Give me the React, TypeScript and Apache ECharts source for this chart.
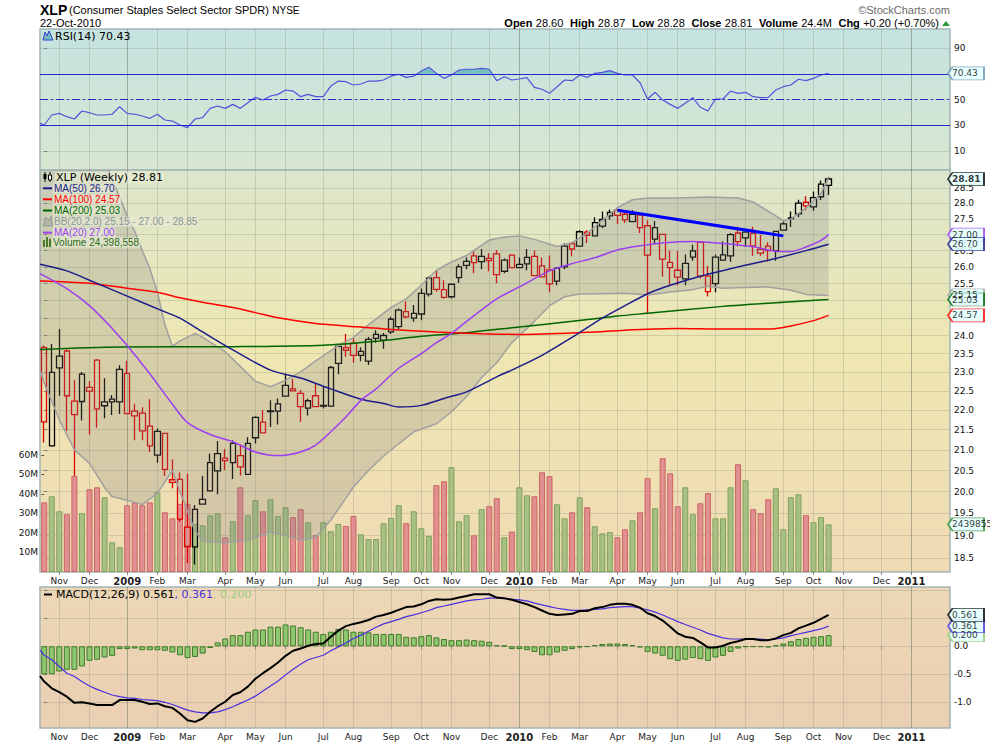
import React, { useEffect, useRef } from 'react';
import * as echarts from 'echarts';

// ---------- weekly OHLC: index 0 = week ending 24-Oct-2008 ... index 104 = week ending 22-Oct-2010
const opens = [
  23.67, 21.10, 23.43, 23.57, 22.23, 22.22, 22.49, 23.32, 22.21, 22.28,
  22.21, 22.96, 21.97, 21.92, 21.59, 20.87, 21.41, 20.22, 20.29, 19.19,
  18.75, 19.82, 20.02, 20.49, 20.80, 20.69, 20.86, 20.41, 21.30, 21.69,
  21.96, 21.97, 22.36, 22.55, 22.43, 22.05, 22.37, 22.12, 22.10, 23.23,
  23.59, 23.79, 23.45, 23.29, 24.03, 23.87, 24.10, 24.25, 24.68, 24.49,
  24.61, 25.19, 25.68, 25.32, 25.11, 25.68, 26.05, 26.34, 26.16, 26.19,
  26.40, 25.87, 26.36, 25.98, 26.09, 26.32, 26.03, 25.91, 25.57, 26.00,
  26.72, 26.64, 26.98, 26.96, 27.27, 27.60, 27.79, 27.65, 27.41, 27.62,
  27.28, 27.22, 27.01, 26.14, 25.90, 25.64, 26.30, 26.76, 25.72, 25.50,
  26.21, 26.34, 27.05, 27.08, 27.04, 26.42, 26.64, 26.50, 27.14, 27.51,
  27.66, 28.04, 27.89, 28.22, 28.60,
];
const highs = [
  23.72, 23.76, 24.18, 23.62, 22.78, 23.00, 22.76, 23.35, 22.83, 22.39,
  23.18, 23.30, 22.16, 22.07, 22.28, 21.53, 21.41, 20.77, 20.45, 20.43,
  19.69, 20.37, 20.91, 21.22, 21.02, 21.24, 21.13, 21.31, 21.84, 22.00,
  22.25, 22.30, 22.96, 22.82, 22.52, 22.29, 22.69, 22.60, 23.16, 23.72,
  24.04, 23.92, 23.67, 23.96, 24.15, 24.07, 24.53, 24.77, 24.98, 24.87,
  25.35, 25.71, 25.89, 25.60, 25.49, 26.08, 26.29, 26.50, 26.55, 26.42,
  26.52, 26.26, 26.39, 26.29, 26.55, 26.50, 26.29, 26.35, 26.00, 26.72,
  26.74, 27.14, 27.14, 27.55, 27.74, 27.80, 27.81, 27.78, 27.78, 27.70,
  27.46, 27.43, 27.01, 26.50, 26.49, 26.38, 26.68, 26.79, 26.03, 26.38,
  26.79, 27.05, 27.25, 27.11, 27.25, 26.99, 26.76, 27.11, 27.42, 27.74,
  28.12, 28.24, 28.39, 28.76, 28.87,
];
const lows = [
  21.18, 21.08, 22.37, 21.47, 20.37, 21.73, 21.38, 21.55, 21.79, 21.87,
  21.90, 21.90, 21.24, 21.24, 20.95, 20.69, 20.37, 20.08, 19.31, 18.40,
  18.37, 19.70, 20.00, 19.94, 20.51, 20.30, 20.38, 20.41, 21.16, 21.42,
  21.57, 21.63, 22.36, 22.48, 21.70, 21.86, 22.09, 22.04, 22.10, 22.94,
  23.41, 23.25, 23.29, 23.19, 23.80, 23.63, 24.04, 24.18, 24.48, 24.39,
  24.43, 25.12, 25.26, 25.05, 25.06, 25.52, 25.93, 25.81, 25.93, 25.87,
  25.51, 25.81, 25.98, 25.97, 25.90, 25.74, 25.70, 25.24, 25.45, 25.93,
  26.33, 26.64, 26.74, 26.96, 27.20, 27.47, 27.34, 27.37, 27.41, 27.05,
  24.62, 26.70, 25.70, 25.45, 25.45, 25.45, 26.19, 25.65, 25.12, 25.24,
  26.21, 26.16, 26.63, 26.61, 26.34, 26.34, 26.16, 26.19, 27.14, 27.24,
  27.55, 27.78, 27.76, 28.11, 28.28,
];
const closes = [
  21.70, 22.99, 23.11, 22.37, 21.88, 22.94, 22.59, 22.03, 22.11, 22.21,
  23.07, 21.91, 21.85, 21.47, 21.10, 21.46, 20.53, 20.28, 19.37, 18.76,
  19.59, 19.71, 20.69, 20.91, 20.74, 21.16, 20.59, 21.16, 21.81, 21.42,
  21.98, 22.16, 22.64, 22.50, 22.09, 22.24, 22.09, 22.10, 23.12, 23.70,
  23.66, 23.45, 23.56, 23.89, 23.92, 24.00, 24.46, 24.72, 24.53, 24.63,
  25.21, 25.66, 25.33, 25.09, 25.48, 26.00, 26.17, 26.13, 26.32, 26.26,
  25.77, 26.21, 25.98, 26.08, 26.29, 25.74, 25.70, 25.49, 25.96, 26.64,
  26.55, 27.09, 27.08, 27.38, 27.48, 27.71, 27.61, 27.47, 27.65, 27.22,
  26.36, 26.86, 26.24, 25.98, 25.69, 26.11, 26.49, 25.72, 25.26, 26.30,
  26.37, 27.00, 26.78, 26.90, 26.65, 26.54, 26.50, 27.10, 27.34, 27.53,
  28.01, 27.92, 28.19, 28.64, 28.81,
];
const prevCloseBeforeStart = 23.9;

// weekly volume, millions of shares
const volumesM = [
  35.7, 38.8, 31.1, 29.6, 49.2, 30.1, 42.4, 43.4, 38.3, 15.2,
  12.7, 34.2, 35.5, 34.2, 35.7, 40.9, 30.6, 27.5, 34.9, 34.9,
  24.6, 23.9, 29.1, 30.1, 17.8, 26.0, 43.4, 29.1, 36.9, 31.1,
  37.3, 28.7, 33.2, 28.1, 32.2, 25.5, 18.8, 25.5, 20.9, 24.6,
  23.6, 28.7, 19.3, 16.9, 16.9, 25.0, 27.7, 34.2, 25.0, 31.1,
  22.4, 18.5, 44.5, 46.5, 53.7, 26.0, 29.1, 18.8, 32.2, 33.7,
  37.8, 17.8, 20.7, 43.4, 39.3, 38.8, 51.1, 49.1, 34.7, 27.5,
  30.6, 38.3, 33.2, 23.4, 19.8, 20.4, 17.8, 21.9, 26.5, 30.6,
  48.1, 32.7, 58.3, 50.6, 33.7, 43.4, 29.6, 35.2, 40.4, 27.5,
  27.5, 43.4, 55.2, 47.0, 32.2, 30.1, 37.3, 42.9, 21.9, 38.3,
  39.8, 29.1, 25.5, 28.1, 24.4,
];

const rsi14 = [
  30.1, 37.9, 39.2, 36.6, 34.8, 41.0, 39.7, 37.9, 37.9, 38.5,
  44.4, 39.2, 38.5, 37.1, 35.3, 38.5, 34.0, 33.2, 30.1, 28.0,
  34.8, 35.8, 43.1, 44.9, 43.1, 46.2, 43.1, 47.5, 51.7, 49.6,
  52.7, 54.0, 57.4, 56.6, 52.2, 54.0, 52.2, 52.2, 60.5, 64.4,
  63.9, 61.3, 62.1, 64.4, 64.4, 65.2, 68.3, 69.7, 67.3, 68.3,
  72.2, 75.1, 70.4, 66.5, 69.1, 73.0, 73.6, 73.6, 74.3, 73.6,
  64.7, 67.8, 65.2, 66.0, 67.0, 59.5, 58.0, 54.8, 60.0, 65.2,
  64.7, 69.1, 67.3, 70.4, 71.2, 72.5, 70.4, 69.1, 69.1, 63.1,
  50.4, 55.6, 49.6, 46.2, 43.1, 47.1, 51.4, 43.9, 41.0, 50.4,
  50.4, 56.6, 54.8, 55.6, 52.2, 51.4, 51.7, 57.4, 60.0, 61.3,
  65.8, 64.7, 66.5, 69.1, 70.43,
];
const rsiAtLeftEdge = 31.4;

const macdLine = [
  -0.63, -0.75, -0.82, -0.90, -1.01, -1.00, -1.02, -1.05, -1.05, -1.05,
  -0.96, -0.96, -0.96, -0.99, -1.03, -1.02, -1.07, -1.10, -1.20, -1.32,
  -1.35, -1.29, -1.17, -1.07, -0.99, -0.87, -0.82, -0.72, -0.58, -0.48,
  -0.39, -0.29, -0.17, -0.08, -0.04, 0.01, 0.04, 0.05, 0.17, 0.28,
  0.36, 0.40, 0.43, 0.47, 0.53, 0.56, 0.60, 0.65, 0.70, 0.71,
  0.75, 0.81, 0.84, 0.83, 0.84, 0.87, 0.90, 0.93, 0.93, 0.93,
  0.87, 0.86, 0.83, 0.79, 0.75, 0.70, 0.64, 0.58, 0.56, 0.57,
  0.58, 0.63, 0.63, 0.68, 0.70, 0.74, 0.76, 0.76, 0.74, 0.69,
  0.59, 0.54, 0.46, 0.35, 0.23, 0.17, 0.15, 0.07, -0.02, -0.02,
  0.01, 0.06, 0.09, 0.13, 0.13, 0.11, 0.11, 0.14, 0.20, 0.24,
  0.32, 0.37, 0.42, 0.49, 0.561,
];
const signalLine = [
  -0.16, -0.24, -0.36, -0.48, -0.54, -0.63, -0.71, -0.77, -0.82, -0.87,
  -0.90, -0.92, -0.93, -0.95, -0.96, -0.97, -1.00, -1.04, -1.09, -1.14,
  -1.17, -1.19, -1.19, -1.17, -1.13, -1.08, -1.02, -0.96, -0.89, -0.80,
  -0.71, -0.62, -0.51, -0.41, -0.32, -0.24, -0.20, -0.16, -0.08, -0.01,
  0.06, 0.14, 0.20, 0.27, 0.34, 0.40, 0.44, 0.48, 0.53, 0.56,
  0.60, 0.64, 0.69, 0.72, 0.75, 0.78, 0.81, 0.83, 0.84, 0.86,
  0.86, 0.85, 0.84, 0.83, 0.81, 0.77, 0.74, 0.71, 0.68, 0.66,
  0.64, 0.64, 0.65, 0.66, 0.67, 0.69, 0.70, 0.71, 0.71, 0.68,
  0.65, 0.61, 0.56, 0.50, 0.44, 0.39, 0.34, 0.29, 0.23, 0.19,
  0.15, 0.13, 0.13, 0.13, 0.13, 0.13, 0.11, 0.13, 0.15, 0.19,
  0.22, 0.25, 0.28, 0.31, 0.361,
];
const macdHist = [
  -0.50, -0.50, -0.45, -0.42, -0.42, -0.36, -0.26, -0.24, -0.20, -0.17,
  -0.05, -0.05, -0.04, -0.07, -0.07, -0.07, -0.08, -0.11, -0.16, -0.21,
  -0.19, -0.13, -0.03, 0.07, 0.14, 0.20, 0.20, 0.26, 0.30, 0.30,
  0.35, 0.35, 0.39, 0.37, 0.34, 0.30, 0.26, 0.22, 0.26, 0.31,
  0.30, 0.26, 0.26, 0.25, 0.22, 0.22, 0.22, 0.22, 0.17, 0.16,
  0.18, 0.20, 0.16, 0.13, 0.11, 0.11, 0.12, 0.11, 0.10, 0.08,
  0.02, 0.01, -0.05, -0.05, -0.07, -0.10, -0.16, -0.16, -0.11, -0.08,
  -0.05, -0.02, -0.01, 0.02, 0.04, 0.05, 0.05, 0.04, 0.02, -0.02,
  -0.10, -0.13, -0.17, -0.23, -0.26, -0.24, -0.21, -0.23, -0.26, -0.20,
  -0.17, -0.10, -0.04, -0.01, -0.01, -0.01, -0.02, 0.02, 0.05, 0.09,
  0.13, 0.15, 0.17, 0.18, 0.20,
];
const macdAtLeftEdge = -0.53;
const signalAtLeftEdge = -0.07;

// overlays read as [week index, value]
const ma50Pts = [[-0.56, 26.08], [3, 25.88], [6, 25.60], [11, 25.13], [16, 24.67], [18, 24.49], [21, 24.10], [25, 23.60], [30, 23.05], [34, 22.84], [38, 22.55], [42, 22.28], [45, 22.17], [47, 22.08], [50, 22.12], [53, 22.30], [56, 22.47], [60, 22.87], [62, 23.05], [66, 23.45], [70, 23.95], [74, 24.49], [77, 24.85], [80, 25.20], [83, 25.45], [87, 25.72], [92, 26.00], [97, 26.26], [101, 26.50], [104, 26.70]];
const ma100Pts = [[-0.56, 25.58], [6, 25.51], [11, 25.36], [15, 25.24], [18, 25.08], [21, 24.95], [25, 24.80], [28, 24.65], [31, 24.50], [36, 24.34], [40, 24.27], [46, 24.17], [52, 24.10], [58, 24.05], [63, 24.03], [72, 24.09], [77, 24.15], [84, 24.20], [90, 24.18], [96, 24.18], [99, 24.27], [102, 24.42], [104, 24.57]];
const ma200Pts = [[-0.56, 23.61], [10, 23.68], [25, 23.69], [37, 23.73], [44, 23.84], [50, 23.98], [56, 24.08], [63, 24.24], [70, 24.40], [76, 24.55], [80, 24.63], [90, 24.83], [98, 24.95], [104, 25.03]];
const ma20Pts = [[-0.56, 25.80], [3, 25.35], [6, 24.85], [9, 24.20], [11, 23.72], [14, 22.95], [17, 22.15], [19, 21.68], [22, 21.38], [25, 21.20], [28, 20.95], [31, 20.86], [34, 20.95], [36, 21.12], [38, 21.45], [40, 21.82], [42, 22.25], [44, 22.55], [47, 23.10], [50, 23.50], [52, 23.80], [54, 24.06], [56, 24.40], [58, 24.73], [60, 25.05], [63, 25.40], [67, 25.88], [70, 26.10], [73, 26.28], [76, 26.52], [79, 26.65], [82, 26.74], [86, 26.78], [90, 26.72], [94, 26.62], [97, 26.48], [99, 26.47], [101, 26.61], [103, 26.82], [104, 27.00]];
const bbUpperPts = [[-0.56, 31.3], [3, 31.0], [6, 30.3], [8, 29.5], [9, 28.8], [10, 28.2], [11, 27.6], [12, 27.1], [13, 26.5], [14, 25.95], [15, 25.25], [16, 24.3], [17, 23.7], [18, 23.85], [20, 24.06], [21, 23.95], [24, 23.55], [26, 23.15], [28, 22.75], [30, 22.61], [32, 22.78], [34, 23.0], [36, 23.3], [39, 23.72], [41, 23.95], [43, 24.3], [46, 24.8], [48, 25.05], [50, 25.45], [52, 25.9], [54, 26.15], [56, 26.35], [59, 26.83], [61, 26.92], [63, 26.96], [65, 26.85], [68, 26.63], [70, 26.75], [72, 27.05], [74, 27.45], [76, 27.86], [78, 28.12], [80, 28.18], [84, 28.18], [88, 28.21], [92, 28.18], [94, 28.05], [96, 27.75], [98, 27.44], [99, 27.50], [101, 27.85], [103, 28.33], [104, 28.85]];
const bbLowerPts = [[-0.56, 23.05], [0, 22.7], [2, 21.75], [4, 21.0], [6, 20.67], [8, 20.1], [9, 19.89], [11, 19.80], [13, 19.70], [15, 19.96], [17, 20.50], [18, 20.0], [19, 19.55], [20, 19.1], [21, 18.88], [24, 18.84], [27, 18.90], [29, 19.02], [30, 19.08], [32, 19.0], [34, 18.90], [36, 18.96], [38, 19.35], [40, 19.85], [41, 20.11], [43, 20.50], [45, 20.85], [47, 21.15], [49, 21.45], [52, 21.65], [54, 21.95], [56, 22.35], [58, 22.85], [60, 23.25], [62, 23.80], [65, 24.40], [67, 24.85], [69, 25.11], [71, 25.19], [74, 25.20], [77, 25.21], [80, 25.16], [83, 25.25], [86, 25.32], [88, 25.42], [90, 25.36], [93, 25.38], [96, 25.40], [99, 25.30], [101, 25.18], [104, 25.15]];
const trendLinePts = [[76, 27.78], [98, 26.96]];

// axis ticks
const monthIdx = [2, 6, 11, 15, 19, 24, 28, 32, 37, 41, 46, 50, 54, 59, 63, 67, 71, 76, 80, 84, 89, 93, 98, 102, 106, 111, 115];
const monthLabels = ['Nov', 'Dec', '2009', 'Feb', 'Mar', 'Apr', 'May', 'Jun', 'Jul', 'Aug', 'Sep', 'Oct', 'Nov', 'Dec', '2010', 'Feb', 'Mar', 'Apr', 'May', 'Jun', 'Jul', 'Aug', 'Sep', 'Oct', 'Nov', 'Dec', '2011'];
const yearIdx = [11, 63, 115];
const priceTicks = [18.5, 19, 19.5, 20, 20.5, 21, 21.5, 22, 22.5, 23, 23.5, 24, 24.5, 25, 25.5, 26, 26.5, 27, 27.5, 28, 28.5];
const priceLabelTicks = [18.5, 19, 19.5, 20, 20.5, 21, 21.5, 22, 22.5, 23, 23.5, 24, 25.5, 26, 26.5, 27.5, 28, 28.5];
const volTicksM = [10, 20, 30, 40, 50, 60];
const rsiTicks = [10, 30, 50, 70, 90];
const rsiLabelTicks = [10, 30, 50, 90];
const rsiBands = [70, 30];
const macdTicks = [-1, -0.5, 0, 0.5, 1];
const macdLabelTicks = [-1, -0.5, 0];

// latest readings shown in the legends / callouts
const lastBBLower = 25.15;
const lastBBUpper = 28.85;
const lastVolumeShares = 24398558;

const X_MIN = -0.56;
const X_MAX = 120.1;
const FONT = 'DejaVu Sans';
const ARIAL = 'Liberation Sans';

const C_RED = '#dd0000';
const C_BLACK = '#000000';
const C_MA50 = '#1c1c8a';
const C_MA100 = '#ff0000';
const C_MA200 = '#006600';
const C_MA20 = '#9c3ff0';
const C_BB = '#a0a0a0';
const C_RSI = '#5252dc';
const C_RSI_FILL = '#74c0be';
const C_LEVEL = '#2828d0';
const C_SIGNAL = '#4a2fe0';
const C_HIST = '#90c76e';

function fmtMonth(v: number) {
  const k = monthIdx.indexOf(Math.round(v));
  const s = k >= 0 ? monthLabels[k] : '';
  return /^\d{4}$/.test(s) ? `{y|${s}}` : s;
}

function monthAxis(gridIndex: number, labels: boolean, margin: number) {
  return {
    type: 'value', gridIndex, min: X_MIN, max: X_MAX, position: 'bottom',
    axisLine: { show: false },
    axisTick: { show: labels, customValues: monthIdx, length: 3, lineStyle: { color: '#888' } },
    axisLabel: {
      show: labels, customValues: monthIdx, margin, fontFamily: FONT, fontSize: 9, color: '#222',
      formatter: fmtMonth,
      rich: { y: { fontFamily: FONT, fontSize: 10, fontWeight: 'bold', color: '#222' } },
    },
    splitLine: { show: true, lineStyle: { color: 'rgba(110,120,100,0.22)', width: 1 } },
  };
}
function yearAxis(gridIndex: number) {
  return {
    type: 'value', gridIndex, min: X_MIN, max: X_MAX, position: 'top',
    axisLine: { show: false },
    axisTick: { show: false, customValues: yearIdx },
    axisLabel: { show: false, customValues: yearIdx },
    splitLine: { show: true, lineStyle: { color: 'rgba(90,100,90,0.30)', width: 1 } },
  };
}
function rightAxisLabel(custom: number[], formatter?: any) {
  return { customValues: custom, margin: 4, fontFamily: FONT, fontSize: 9, color: '#111', formatter };
}

const calloutSymbol = 'path://M0,6.5 L5,0 L40,0 L40,13 L5,13 Z';
function callout(x: number, y: number, text: string, border: string, bold = false) {
  return {
    name: text, value: [x, y],
    itemStyle: { color: '#e2ffff', borderColor: border, borderWidth: 1.2 },
    label: { fontWeight: bold ? 'bold' : 'normal' },
  };
}
function calloutSeries(xAxisIndex: number, yAxisIndex: number, data: any[]) {
  return {
    type: 'scatter', xAxisIndex, yAxisIndex, z: 20, clip: false, silent: true,
    symbol: calloutSymbol, symbolSize: [36, 13], symbolOffset: [16, 0], symbolKeepAspect: false,
    label: { show: true, position: 'insideLeft', distance: 5, fontFamily: FONT, fontSize: 9, color: '#000', formatter: (p: any) => p.name },
    data,
  };
}
function lineSeries(xAxisIndex: number, yAxisIndex: number, data: any[], color: string, width: number, z: number, smooth: any = false) {
  return { type: 'line', xAxisIndex, yAxisIndex, data, symbol: 'none', smooth, silent: true, z, lineStyle: { color, width } };
}

// pixel-space pieces of a polyline that lie beyond a horizontal reference line (used for the RSI shading)
function piecesBeyond(pts: number[][], yRef: number, above: boolean) {
  const inside = (p: number[]) => (above ? p[1] < yRef : p[1] > yRef);
  const polys: number[][][] = [];
  let cur: number[][] | null = null;
  for (let k = 0; k < pts.length; k++) {
    const p = pts[k];
    if (k > 0) {
      const q = pts[k - 1];
      if (inside(p) !== inside(q)) {
        const t = (yRef - q[1]) / (p[1] - q[1]);
        const xc = q[0] + t * (p[0] - q[0]);
        if (cur) { cur.push([xc, yRef]); polys.push(cur); cur = null; }
        else cur = [[xc, yRef]];
      }
    }
    if (inside(p)) {
      if (!cur) cur = [[p[0], yRef]];
      cur.push(p);
    }
  }
  if (cur) { cur.push([cur[cur.length - 1][0], yRef]); polys.push(cur); }
  return polys;
}

function buildOption() {
  const idx = closes.map((_, i) => i);
  const prevClose = (i: number) => (i === 0 ? prevCloseBeforeStart : closes[i - 1]);

  const candleData = idx.map((i) => {
    const col = closes[i] < prevClose(i) ? C_RED : C_BLACK;
    return {
      value: [i, opens[i], closes[i], lows[i], highs[i]],
      itemStyle: { color: 'rgba(0,0,0,0)', color0: col, borderColor: col, borderColor0: col },
    };
  });
  const volData = idx.map((i) => {
    const up = closes[i] >= prevClose(i);
    return {
      value: [i, volumesM[i]],
      itemStyle: up ? { color: '#a8c083', borderColor: '#80a05c' } : { color: '#e09090', borderColor: '#cc6464' },
    };
  });

  const rsiData = [[X_MIN, rsiAtLeftEdge], ...idx.map((i) => [i, rsi14[i]])];
  const macdData = [[X_MIN, macdAtLeftEdge], ...idx.map((i) => [i, macdLine[i]])];
  const signalData = [[X_MIN, signalAtLeftEdge], ...idx.map((i) => [i, signalLine[i]])];

  const last = closes.length - 1;
  const ma50Last = ma50Pts[ma50Pts.length - 1][1];
  const ma100Last = ma100Pts[ma100Pts.length - 1][1];
  const ma200Last = ma200Pts[ma200Pts.length - 1][1];
  const ma20Last = ma20Pts[ma20Pts.length - 1][1];

  const rsiBg = { type: 'linear', x: 0, y: 0, x2: 0, y2: 1, colorStops: [{ offset: 0, color: '#c5e3e0' }, { offset: 1, color: '#d8e7d0' }] };
  const priceBg = { type: 'linear', x: 0, y: 0, x2: 0, y2: 1, colorStops: [{ offset: 0, color: '#dce6cb' }, { offset: 0.45, color: '#efe7b2' }, { offset: 1, color: '#efdab4' }] };
  const macdBg = { type: 'linear', x: 0, y: 0, x2: 0, y2: 1, colorStops: [{ offset: 0, color: '#ecd7b6' }, { offset: 1, color: '#eacfb2' }] };
  const BORDER = '#a2b5b5';

  const legendBg = 'rgba(232,236,212,0.72)';
  const legendText = (y: number, x: number, text: string, color: string, font: string) => ({
    type: 'text', z: 100, x, y, silent: true,
    style: { text, font, fill: color, align: 'left', verticalAlign: 'middle', backgroundColor: legendBg, padding: [0, 1, 0, 1] },
  });
  const legendLine = (y: number, color: string) => ({
    type: 'line', z: 100, silent: true, shape: { x1: 43, y1: y, x2: 52, y2: y }, style: { stroke: color, lineWidth: 2 },
  });

  const graphic: any[] = [
    { type: 'text', z: 100, x: 40, y: 10, style: { text: 'XLP', font: `bold 14px ${ARIAL}`, fill: '#000', align: 'left', verticalAlign: 'middle' } },
    {
      type: 'text', z: 100, x: 69, y: 10,
      style: {
        text: '{a|(Consumer Staples Select Sector SPDR)} {b|NYSE}',
        rich: { a: { font: `11px ${ARIAL}`, fill: '#000' }, b: { font: `10px ${ARIAL}`, fill: '#000' } },
        align: 'left', verticalAlign: 'middle',
      },
    },
    { type: 'text', z: 100, x: 40, y: 23, style: { text: '22-Oct-2010', font: `11px ${ARIAL}`, fill: '#000', align: 'left', verticalAlign: 'middle' } },
    { type: 'text', z: 100, x: 950, y: 10, style: { text: '\u00a9StockCharts.com', font: `11px ${ARIAL}`, fill: '#6a6a6a', align: 'right', verticalAlign: 'middle' } },
    {
      type: 'text', z: 100, x: 939, y: 23,
      style: {
        text: `{b|Open} {n|${opens[last].toFixed(2)}}  {b|High} {n|${highs[last].toFixed(2)}}  {b|Low} {n|${lows[last].toFixed(2)}}  {b|Close} {n|${closes[last].toFixed(2)}}  {b|Volume} {n|${volumesM[last].toFixed(1)}M}  {b|Chg} {n|+0.20 (+0.70%)}`,
        rich: { b: { font: `bold 11px ${ARIAL}`, fill: '#000' }, n: { font: `11px ${ARIAL}`, fill: '#000' } },
        align: 'right', verticalAlign: 'middle',
      },
    },
    { type: 'polygon', z: 100, shape: { points: [[942, 26], [950, 26], [946, 21]] }, style: { fill: '#2a9a3a' } },

    // RSI title
    { type: 'polygon', z: 100, shape: { points: [[43, 40], [45, 32], [47, 36], [49, 31], [53, 40]] }, style: { fill: C_RSI_FILL, stroke: '#3a3ad0', lineWidth: 1 } },
    { type: 'text', z: 100, x: 55, y: 36, style: { text: `RSI(14) ${rsi14[last].toFixed(2)}`, font: `11px ${FONT}`, fill: '#000', align: 'left', verticalAlign: 'middle' } },

    // price legend
    { type: 'line', z: 100, shape: { x1: 45, y1: 172, x2: 45, y2: 182 }, style: { stroke: '#000', lineWidth: 1 } },
    { type: 'rect', z: 100, shape: { x: 43.5, y: 174, width: 3, height: 5 }, style: { fill: '#000' } },
    { type: 'line', z: 100, shape: { x1: 50, y1: 172, x2: 50, y2: 182 }, style: { stroke: '#000', lineWidth: 1 } },
    { type: 'rect', z: 100, shape: { x: 48.5, y: 175, width: 3, height: 5 }, style: { fill: '#fff', stroke: '#000', lineWidth: 1 } },
    legendText(177.3, 55, `XLP (Weekly) ${closes[last].toFixed(2)}`, '#000', `11px ${FONT}`),
    legendLine(188.3, C_MA50),
    legendText(188.3, 53, `MA(50) ${ma50Last.toFixed(2)}`, C_MA50, `10px ${ARIAL}`),
    legendLine(199.3, C_MA100),
    legendText(199.3, 53, `MA(100) ${ma100Last.toFixed(2)}`, C_MA100, `10px ${ARIAL}`),
    legendLine(210.5, C_MA200),
    legendText(210.5, 53, `MA(200) ${ma200Last.toFixed(2)}`, C_MA200, `10px ${ARIAL}`),
    { type: 'polygon', z: 100, shape: { points: [[43, 226], [46, 217], [49, 221], [51, 216], [53, 226]] }, style: { fill: '#b4b4a8', stroke: '#9a9a9a', lineWidth: 1 } },
    legendText(221.6, 53, `BB(20,2.0) ${lastBBLower.toFixed(2)} - ${ma20Last.toFixed(2)} - ${lastBBUpper.toFixed(2)}`, '#8a9494', `10px ${ARIAL}`),
    legendLine(232.6, C_MA20),
    legendText(232.6, 53, `MA(20) ${ma20Last.toFixed(2)}`, C_MA20, `10px ${ARIAL}`),
    { type: 'rect', z: 100, shape: { x: 43, y: 240, width: 2, height: 7 }, style: { fill: '#4a7a2a' } },
    { type: 'rect', z: 100, shape: { x: 46, y: 237, width: 2, height: 10 }, style: { fill: '#4a7a2a' } },
    { type: 'rect', z: 100, shape: { x: 49, y: 239, width: 2, height: 8 }, style: { fill: '#4a7a2a' } },
    legendText(242.4, 52, `Volume ${lastVolumeShares.toLocaleString('en-US')}`, '#2e6b1a', `10px ${ARIAL}`),

    // MACD title
    { type: 'line', z: 100, shape: { x1: 44, y1: 594.5, x2: 52, y2: 594.5 }, style: { stroke: '#000', lineWidth: 2 } },
    {
      type: 'text', z: 100, x: 56, y: 594.5,
      style: {
        text: `{k|MACD(12,26,9) ${macdLine[last].toFixed(3)}}{s|, ${signalLine[last].toFixed(3)}}{h|, ${macdHist[last].toFixed(3)}}`,
        rich: { k: { font: `11px ${FONT}`, fill: '#000' }, s: { font: `11px ${FONT}`, fill: C_SIGNAL }, h: { font: `11px ${FONT}`, fill: '#9ccc7a' } },
        align: 'left', verticalAlign: 'middle',
      },
    },
  ];

  return {
    animation: false,
    backgroundColor: '#ffffff',
    grid: [
      { left: 40, top: 29, width: 910, height: 141, show: true, backgroundColor: rsiBg, borderColor: BORDER, borderWidth: 1.5, outerBoundsMode: 'none' },
      { left: 40, top: 170, width: 910, height: 402, show: true, backgroundColor: priceBg, borderColor: BORDER, borderWidth: 1.5, outerBoundsMode: 'none' },
      { left: 40, top: 587, width: 910, height: 141, show: true, backgroundColor: macdBg, borderColor: BORDER, borderWidth: 1.5, outerBoundsMode: 'none' },
    ],
    xAxis: [monthAxis(0, false, 3), monthAxis(1, true, 4), monthAxis(2, true, 4), yearAxis(0), yearAxis(1), yearAxis(2)],
    yAxis: [
      {
        type: 'value', gridIndex: 0, min: -5, max: 105, position: 'right',
        axisLine: { show: false },
        axisTick: { show: true, customValues: rsiTicks, length: 3, lineStyle: { color: '#777' } },
        axisLabel: rightAxisLabel(rsiLabelTicks),
        splitLine: { show: true, lineStyle: { color: 'rgba(110,120,100,0.22)' } },
      },
      {
        type: 'log', logBase: 10, gridIndex: 1, min: 18.21, max: 29.115, position: 'right',
        axisLine: { show: false },
        axisTick: { show: true, customValues: priceTicks, length: 3, lineStyle: { color: '#777' } },
        axisLabel: rightAxisLabel(priceLabelTicks, (v: number) => v.toFixed(1)),
        splitLine: { show: true, lineStyle: { color: 'rgba(110,120,100,0.22)' } },
      },
      {
        type: 'value', gridIndex: 1, min: 0, max: 206, position: 'left',
        axisLine: { show: false },
        axisTick: { show: true, customValues: volTicksM, length: 3, lineStyle: { color: '#555' } },
        axisLabel: { customValues: volTicksM, margin: 2, fontFamily: FONT, fontSize: 9, color: '#111', formatter: (v: number) => `${Math.round(v)}M` },
        splitLine: { show: false },
      },
      {
        type: 'value', gridIndex: 2, min: -1.459, max: 1.059, position: 'right',
        axisLine: { show: false },
        axisTick: { show: true, customValues: macdTicks, length: 3, lineStyle: { color: '#777' } },
        axisLabel: rightAxisLabel(macdLabelTicks, (v: number) => v.toFixed(1)),
        splitLine: { show: true, lineStyle: { color: 'rgba(110,120,100,0.22)' } },
      },
    ],
    graphic,
    series: [
      // ---------- RSI panel
      {
        type: 'custom', xAxisIndex: 0, yAxisIndex: 0, z: 2, clip: true, silent: true,
        data: [[50, 50]],
        renderItem: (params: any, api: any) => {
          const line = rsiData.map((p) => api.coord(p));
          const yHi = api.coord([0, rsiBands[0]])[1];
          const yLo = api.coord([0, rsiBands[1]])[1];
          const polys = [...piecesBeyond(line, yHi, true), ...piecesBeyond(line, yLo, false)];
          return {
            type: 'group',
            children: polys.map((pts) => ({ type: 'polygon', shape: { points: pts }, style: { fill: C_RSI_FILL } })),
          };
        },
      },
      {
        ...lineSeries(0, 0, rsiData, C_RSI, 1.2, 4),
        markLine: {
          silent: true, symbol: 'none', label: { show: false },
          data: [
            { yAxis: rsiBands[0], lineStyle: { color: C_LEVEL, type: 'solid', width: 1 } },
            { yAxis: rsiBands[1], lineStyle: { color: C_LEVEL, type: 'solid', width: 1 } },
            { yAxis: 50, lineStyle: { color: C_LEVEL, type: [8, 3, 2, 3], width: 1 } },
          ],
        },
      },
      calloutSeries(0, 0, [callout(X_MAX, rsi14[last], rsi14[last].toFixed(2), '#6a94b0')]),

      // ---------- price panel
      { type: 'bar', xAxisIndex: 1, yAxisIndex: 2, barWidth: 6, silent: true, z: 2, itemStyle: { borderWidth: 1 }, data: volData },
      { type: 'candlestick', xAxisIndex: 1, yAxisIndex: 1, barWidth: 6, silent: true, z: 3, itemStyle: { borderWidth: 1.3 }, data: candleData },
      {
        type: 'custom', xAxisIndex: 1, yAxisIndex: 1, z: 4, clip: true, silent: true,
        data: [[50, 25]],
        renderItem: (params: any, api: any) => {
          const pts = [...bbUpperPts.map((p) => api.coord(p)), ...bbLowerPts.slice().reverse().map((p) => api.coord(p))];
          return { type: 'polygon', shape: { points: pts }, style: { fill: 'rgba(128,128,128,0.24)' } };
        },
      },
      lineSeries(1, 1, bbUpperPts, C_BB, 1.5, 5),
      lineSeries(1, 1, bbLowerPts, C_BB, 1.5, 5),
      lineSeries(1, 1, ma200Pts, C_MA200, 1.5, 6, 0.3),
      lineSeries(1, 1, ma100Pts, C_MA100, 1.5, 6, 0.3),
      lineSeries(1, 1, ma50Pts, C_MA50, 1.5, 6, 0.3),
      lineSeries(1, 1, ma20Pts, C_MA20, 1.5, 6, 0.3),
      lineSeries(1, 1, trendLinePts, '#0000ff', 3, 7),
      calloutSeries(1, 1, [
        callout(X_MAX, closes[last], closes[last].toFixed(2), '#000', true),
        callout(X_MAX, ma20Last, ma20Last.toFixed(2), C_MA20),
        callout(X_MAX, ma50Last, ma50Last.toFixed(2), C_MA50),
        callout(X_MAX, lastBBLower, lastBBLower.toFixed(2), C_BB),
        callout(X_MAX, ma200Last, ma200Last.toFixed(2), C_MA200),
        callout(X_MAX, ma100Last, ma100Last.toFixed(2), C_MA100),
      ]),
      calloutSeries(1, 2, [callout(X_MAX, volumesM[last], String(lastVolumeShares), '#2e8b2e')]),

      // ---------- MACD panel
      { type: 'bar', xAxisIndex: 2, yAxisIndex: 3, barWidth: 6, silent: true, z: 2, itemStyle: { color: C_HIST, borderColor: '#3f7a2a', borderWidth: 1 }, data: idx.map((i) => [i, macdHist[i]]) },
      lineSeries(2, 3, signalData, C_SIGNAL, 1.2, 4),
      lineSeries(2, 3, macdData, '#000', 2, 5),
      calloutSeries(2, 3, [
        callout(X_MAX, macdHist[last], macdHist[last].toFixed(3), C_HIST),
        callout(X_MAX, signalLine[last], signalLine[last].toFixed(3), C_SIGNAL),
        callout(X_MAX, macdLine[last], macdLine[last].toFixed(3), '#000'),
      ]),
    ],
  };
}

export default function App() {
  const ref = useRef<HTMLDivElement>(null);
  useEffect(() => {
    const chart = echarts.init(ref.current as HTMLDivElement, null, { renderer: 'svg' });
    chart.setOption(buildOption() as any);
    return () => chart.dispose();
  }, []);
  return <div ref={ref} style={{ position: 'absolute', left: 0, top: 0, width: 990, height: 744, background: '#fff' }} />;
}
